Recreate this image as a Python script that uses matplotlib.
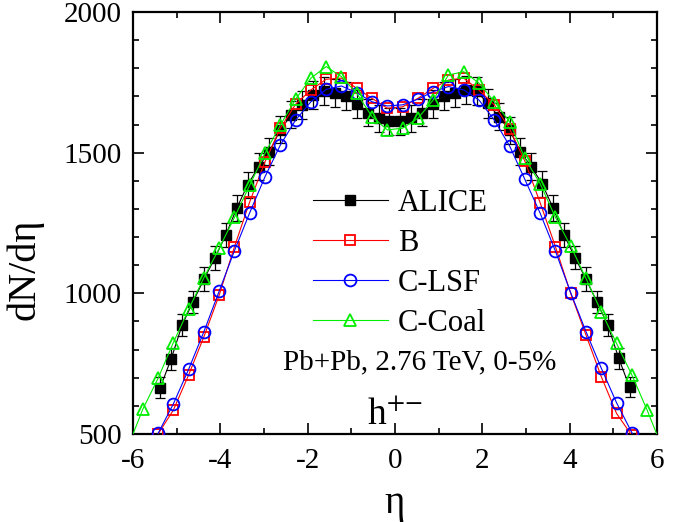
import matplotlib
matplotlib.use("Agg")
import matplotlib.pyplot as plt
from matplotlib.ticker import MultipleLocator
from matplotlib.lines import Line2D
import numpy as np

plt.rcParams['font.family'] = ['Liberation Serif', 'DejaVu Serif']
plt.rcParams['mathtext.fontset'] = 'stix'
plt.rcParams['axes.unicode_minus'] = False

# ALICE data, |eta| bins of 0.25 (negative side listed from -5.375 to -0.125, then positive side)
alice_eta = [-5.375, -5.125, -4.875, -4.625, -4.375, -4.125, -3.875, -3.625, -3.375, -3.125, -2.875,
             -2.625, -2.375, -2.125, -1.875, -1.625, -1.375, -1.125, -0.875, -0.625, -0.375, -0.125,
             0.125, 0.375, 0.625, 0.875, 1.125, 1.375, 1.625, 1.875, 2.125, 2.375, 2.625,
             2.875, 3.125, 3.375, 3.625, 3.875, 4.125, 4.375, 4.625, 4.875, 5.125, 5.375]
alice_val = [665, 767, 887, 970, 1050, 1125, 1207, 1302, 1385, 1450, 1504,
             1581, 1634, 1670, 1705, 1720, 1712, 1700, 1672, 1642, 1622, 1612,
             1612, 1622, 1642, 1672, 1700, 1712, 1722, 1718, 1675, 1628, 1580,
             1503, 1450, 1388, 1302, 1207, 1127, 1050, 970, 887, 769, 666]
alice_err = [36, 38, 40, 40, 42, 42, 44, 46, 46, 48, 48,
             48, 48, 50, 50, 50, 50, 50, 50, 48, 48, 48,
             48, 48, 48, 50, 50, 50, 50, 50, 50, 48, 48,
             48, 48, 46, 46, 44, 42, 42, 40, 40, 38, 36]

# model curves, eta grid step 0.35
model_eta = [-6.125, -5.775, -5.425, -5.075, -4.725, -4.375, -4.025, -3.675, -3.325, -2.975,
             -2.625, -2.275, -1.925, -1.575, -1.225, -0.875, -0.525, -0.175,
             0.175, 0.525, 0.875, 1.225, 1.575, 1.925, 2.275, 2.625, 2.975,
             3.325, 3.675, 4.025, 4.375, 4.725, 5.075, 5.425, 5.775, 6.125]
b_val = [330, 400, 500, 585, 710, 846, 994, 1166, 1326, 1468,
         1587, 1672, 1723, 1761, 1765, 1729, 1693, 1658,
         1663, 1693, 1729, 1758, 1765, 1722, 1670, 1585, 1470,
         1322, 1166, 1000, 852, 704, 573, 495, 400, 330]
clsf_val = [330, 410, 502, 607, 730, 864, 1008, 1152, 1287, 1415,
            1527, 1616, 1681, 1725, 1737, 1713, 1681, 1666,
            1670, 1690, 1717, 1735, 1723, 1687, 1616, 1524, 1405,
            1285, 1150, 1002, 864, 734, 611, 505, 410, 330]
ccoal_val = [450, 588, 698, 825, 943, 1056, 1160, 1270, 1385, 1498,
             1598, 1690, 1765, 1806, 1770, 1711, 1628, 1581,
             1587, 1622, 1687, 1776, 1788, 1747, 1681, 1610, 1480,
             1390, 1270, 1168, 1053, 935, 822, 710, 585, 450]

red, blue, green = '#ff0000', '#0000ff', '#00ee00'

fig = plt.figure(figsize=(6.94, 5.22), dpi=100)
ax = fig.add_axes([0.1916, 0.1686, 0.755, 0.8084])

ax.plot(model_eta, b_val, color=red, lw=0.8, marker='s', ms=7.5, mfc='none',
        mec=red, mew=1.3, zorder=3)
ax.plot(model_eta, clsf_val, color=blue, lw=0.8, marker='o', ms=8.5, mfc='none',
        mec=blue, mew=1.3, zorder=4)
ax.errorbar(alice_eta, alice_val, yerr=alice_err, color='black', lw=0.8, marker='s', ms=7.5,
            mfc='black', mec='black', ecolor='black', elinewidth=0.9, capsize=3.5, capthick=0.9,
            zorder=2)
ax.plot(model_eta, ccoal_val, color=green, lw=0.8, marker='^', ms=9, mfc='none',
        mec=green, mew=1.3, zorder=5)

ax.set_xlim(-6, 6)
ax.set_ylim(500, 2000)
ax.xaxis.set_major_locator(MultipleLocator(2))
ax.xaxis.set_minor_locator(MultipleLocator(1))
ax.yaxis.set_major_locator(MultipleLocator(500))
ax.yaxis.set_minor_locator(MultipleLocator(100))
ax.tick_params(which='both', direction='in', top=True, right=True, width=1.2, labelsize=21)
ax.tick_params(which='major', length=8)
ax.tick_params(which='minor', length=4.5)
ax.tick_params(axis='x', pad=10)
ax.tick_params(axis='y', pad=8)
for s in ax.spines.values():
    s.set_linewidth(1.6)

ax.set_xlabel('η', fontsize=28)
ax.set_ylabel('dN/dη', fontsize=29)
ax.xaxis.set_label_coords(0.5, -0.12)
ax.yaxis.set_label_coords(-0.17, 0.39)

handles = [
    Line2D([], [], color='black', lw=0.8, marker='s', ms=7.5, mfc='black', mec='black'),
    Line2D([], [], color=red, lw=0.8, marker='s', ms=7.5, mfc='none', mec=red, mew=1.3),
    Line2D([], [], color=blue, lw=0.8, marker='o', ms=8.5, mfc='none', mec=blue, mew=1.3),
    Line2D([], [], color=green, lw=0.8, marker='^', ms=9, mfc='none', mec=green, mew=1.3),
]
labels = ['ALICE', 'B', 'C-LSF', 'C-Coal']
ax.legend(handles, labels, loc='center', bbox_to_anchor=(0.51, 0.405), frameon=False,
          fontsize=22, handlelength=2.45, handletextpad=0.33, labelspacing=0.36, numpoints=1)

ax.text(0.548, 0.17, 'Pb+Pb, 2.76 TeV, 0-5%', transform=ax.transAxes, ha='center', va='center',
        fontsize=21)
ax.text(0.5, 0.045, r'h$^{+\mathrm{-}}$', transform=ax.transAxes, ha='center', va='center',
        fontsize=27)

fig.savefig('out.png', dpi=100)
